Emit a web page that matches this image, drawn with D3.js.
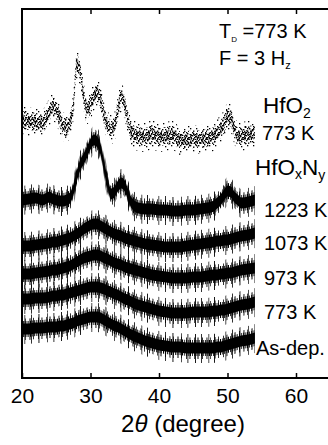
<!DOCTYPE html>
<html><head><meta charset="utf-8">
<script src="https://cdn.jsdelivr.net/npm/d3@7"></script>
<style>body{margin:0;background:#fff}svg{display:block}</style>
</head><body>
<svg id="c" width="328" height="445"></svg>
<script>
// ---- data (2θ in degrees, intensity in arbitrary units, offset-stacked) ----
const twoTheta = [20,21,22,23,24,24.5,25,25.5,26,26.5,27,27.5,28,28.5,29,29.5,30,30.5,31,31.5,32,32.5,33,33.5,34,34.5,35,35.5,36,37,38,39,40,41,42,43,44,45,46,47,48,48.5,49,49.5,50,50.5,51,51.5,52,53,54];
const hfo2_773 = [25.8,25.7,25.6,25.5,26.6,27.2,26.8,26.0,25.2,25.1,25.6,27.2,31.4,30.6,28.2,26.9,27.3,28.2,28.5,27.8,26.2,25.3,24.9,25.2,26.8,28.1,27.3,25.6,24.5,24.2,24.1,24.4,24.1,24.2,24.3,23.8,23.8,23.9,23.9,24.0,24.2,24.5,24.9,25.4,26.1,26.0,24.9,24.2,24.2,24.3,24.4];
const hfon_1223 = [17.8,17.9,18.0,17.8,18.1,17.9,17.8,17.7,17.7,17.8,18.0,18.8,20.2,21.3,21.9,22.6,23.4,23.8,23.6,22.8,21.1,19.5,18.4,18.6,19.2,19.5,19.2,18.3,17.5,17.0,16.9,16.9,16.8,16.8,16.7,16.7,16.8,16.8,16.9,17.0,17.2,17.5,17.8,18.3,18.7,18.6,18.1,17.8,17.5,17.6,17.8];
const hfon_1073 = [13.2,13.2,13.3,13.4,13.5,13.6,13.6,13.7,13.8,13.9,14.0,14.2,14.4,14.6,14.9,15.1,15.3,15.4,15.4,15.2,15.0,14.8,14.6,14.4,14.3,14.2,14.0,13.9,13.8,13.6,13.4,13.3,13.2,13.1,13.1,13.1,13.2,13.3,13.4,13.5,13.6,13.7,13.7,13.8,13.8,13.9,14.0,14.1,14.2,14.3,14.5];
const hfon_973 = [10.4,10.4,10.5,10.6,10.7,10.8,10.8,10.9,11.0,11.1,11.2,11.4,11.6,11.8,12.0,12.1,12.2,12.3,12.3,12.2,12.0,11.9,11.7,11.5,11.4,11.3,11.1,11.0,10.9,10.7,10.5,10.3,10.2,10.1,10.0,10.0,10.0,10.1,10.1,10.2,10.3,10.3,10.4,10.4,10.5,10.5,10.6,10.7,10.8,10.9,11.0];
const hfon_773 = [7.9,7.9,8.0,8.0,8.1,8.2,8.2,8.3,8.3,8.4,8.5,8.6,8.7,8.8,8.9,9.0,9.1,9.1,9.1,9.0,8.9,8.7,8.6,8.4,8.3,8.1,7.9,7.8,7.6,7.3,7.1,6.9,6.7,6.6,6.5,6.5,6.5,6.6,6.6,6.6,6.7,6.7,6.8,6.8,6.9,7.0,7.1,7.2,7.3,7.4,7.6];
const hfon_asdep = [4.9,4.9,5.0,5.0,5.1,5.1,5.1,5.2,5.2,5.3,5.4,5.5,5.7,5.8,5.9,6.0,6.1,6.1,6.1,6.0,5.8,5.6,5.4,5.2,5.1,4.9,4.7,4.5,4.3,4.0,3.7,3.5,3.3,3.2,3.1,3.1,3.0,3.0,3.0,3.0,3.0,3.1,3.1,3.2,3.3,3.4,3.5,3.6,3.7,3.8,4.0];
const hfonSeries = [hfon_1223, hfon_1073, hfon_973, hfon_773, hfon_asdep];
const hfonLabels = ["1223 K","1073 K","973 K","773 K","As-dep."];
const xTickValues = [20,30,40,50,60];

// ---- layout ----
const W = 328, H = 445;
const svg = d3.select("#c");
const x = d3.scaleLinear().domain([20, 60]).range([22, 296]);
const y = d3.scaleLinear().domain([0, 36.9]).range([378, 9]);
const FONT = "'Liberation Sans', Arial, Helvetica, sans-serif";

// ---- fill patterns that give the noisy (spiky / speckled) texture ----
const defs = svg.append("defs");
function stripePattern(id, w, lines) {
  const p = defs.append("pattern").attr("id", id).attr("patternUnits", "userSpaceOnUse")
    .attr("width", w).attr("height", 10);
  lines.forEach(([lx, lw]) => p.append("rect").attr("x", lx).attr("y", 0).attr("width", lw).attr("height", 10).attr("fill", "#000"));
}
stripePattern("spkA", 67, [[0,0.8],[7.5,0.7],[13,0.9],[24.5,0.7],[31,0.8],[38.5,0.9],[47,0.7],[53.5,0.8],[61,0.9]]);
stripePattern("spkB", 37, [[1,0.8],[4.5,0.9],[9,0.7],[12.5,1],[17,0.8],[21.5,0.9],[25,0.7],[29.5,1],[33,0.8]]);
stripePattern("spkC", 19, [[0,1],[2,0.8],[4.2,1.1],[6.5,0.9],[8.6,1],[11,1.1],[13.3,0.8],[15.2,1],[17.4,0.9]]);
function dotPattern(id, w, h, pts, s) {
  const p = defs.append("pattern").attr("id", id).attr("patternUnits", "userSpaceOnUse")
    .attr("width", w).attr("height", h);
  pts.forEach(([px, py]) => p.append("rect").attr("x", px).attr("y", py).attr("width", s).attr("height", s).attr("fill", "#000"));
}
dotPattern("dotA", 19, 17, [[1,2],[6,9],[11,4],[15,13],[3,14],[9,15],[17,7],[13,10],[5,5],[8,0.5],[16,2],[0,9]], 1.3);
dotPattern("dotB", 9, 8, [[0,1],[3,4],[6,0],[7,5],[1,6],[4,2.5],[2,7],[5,6.5],[8,2.5]], 1.4);
dotPattern("dotC", 6, 5, [[0,0],[2,2],[4,0.5],[3,4],[5,3],[1,3.5],[4.5,2]], 1.4);

const toPts = arr => arr.map((v, i) => ({ t: twoTheta[i], v }));
const band = (hwUp, hwDn) => d3.area().x(d => x(d.t)).y0(d => y(d.v) + hwDn).y1(d => y(d.v) - hwUp).curve(d3.curveMonotoneX);

const g = svg.append("g");
// HfO2 773 K (speckled / dotted trace)
const h = toPts(hfo2_773);
g.append("path").datum(h).attr("d", band(14, 15)).attr("fill", "url(#dotA)");
g.append("path").datum(h).attr("d", band(9, 9)).attr("fill", "url(#dotB)");
g.append("path").datum(h).attr("d", band(5, 5)).attr("fill", "url(#dotC)");

// HfOxNy (dense noisy traces)
hfonSeries.forEach(arr => {
  const d = toPts(arr);
  g.append("path").datum(d).attr("d", band(14, 15)).attr("fill", "url(#spkA)");
  g.append("path").datum(d).attr("d", band(10.5, 11)).attr("fill", "url(#spkB)");
  g.append("path").datum(d).attr("d", band(8, 8)).attr("fill", "url(#spkC)");
  g.append("path").datum(d).attr("d", band(5.5, 5.5)).attr("fill", "#000");
});

// ---- axes ----
const ax = svg.append("g").attr("stroke", "#000").attr("stroke-width", 2).attr("fill", "none");
ax.append("line").attr("x1", x(20)).attr("x2", W).attr("y1", y(0)).attr("y2", y(0));
ax.append("line").attr("x1", x(20)).attr("x2", W).attr("y1", y(36.9)).attr("y2", y(36.9));
ax.append("line").attr("x1", x(20)).attr("x2", x(20)).attr("y1", y(36.9) - 1).attr("y2", y(0) + 1);

const bottomAx = svg.append("g").attr("transform", `translate(0,${y(0)})`)
  .call(d3.axisBottom(x).tickValues(xTickValues).tickSize(-5).tickSizeOuter(0).tickPadding(12));
bottomAx.select(".domain").remove();
bottomAx.selectAll(".tick line").attr("stroke-width", 1.5);
bottomAx.selectAll(".tick text").attr("font-family", FONT).attr("font-size", 21).attr("fill", "#000").attr("dy", "0.62em");
const topAx = svg.append("g").attr("transform", `translate(0,${y(36.9)})`)
  .call(d3.axisTop(x).tickValues(xTickValues.slice(1)).tickSize(-5).tickSizeOuter(0).tickFormat(""));
topAx.select(".domain").remove();
topAx.selectAll(".tick line").attr("stroke-width", 1.5);

// axis title
const title = svg.append("text").attr("x", 183).attr("y", 432).attr("text-anchor", "middle")
  .attr("font-family", FONT).attr("font-size", 24).attr("fill", "#000");
title.append("tspan").text("2");
title.append("tspan").attr("font-style", "italic").text("θ");
title.append("tspan").text(" (degree)");

// ---- annotations ----
function txt(px, py, size) {
  return svg.append("text").attr("x", px).attr("y", py).attr("font-family", FONT)
    .attr("font-size", size).attr("fill", "#000");
}
let t = txt(219, 38, 20);
t.append("tspan").text("T");
t.append("tspan").attr("font-size", 8).attr("dy", 4).text("D");
t.append("tspan").attr("dy", -4).text(" =773 K");
t = txt(219, 65, 20);
t.append("tspan").text("F = 3 H");
t.append("tspan").attr("font-size", 11).attr("dy", 4).text("z");
t = txt(263, 113, 22.5);
t.append("tspan").text("HfO");
t.append("tspan").attr("font-size", 14).attr("dy", 5).text("2");
txt(262, 140, 20).text("773 K");
t = txt(255, 175, 22.5);
t.append("tspan").text("HfO");
t.append("tspan").attr("font-size", 14).attr("dy", 4).text("x");
t.append("tspan").attr("dy", -4).text("N");
t.append("tspan").attr("font-size", 14).attr("dy", 5).text("y");

hfonSeries.forEach((arr, i) => {
  const last = arr[arr.length - 1];
  txt(i === 4 ? 256 : 264, y(last) + 17, 20).text(hfonLabels[i]);
});
</script>
</body></html>
